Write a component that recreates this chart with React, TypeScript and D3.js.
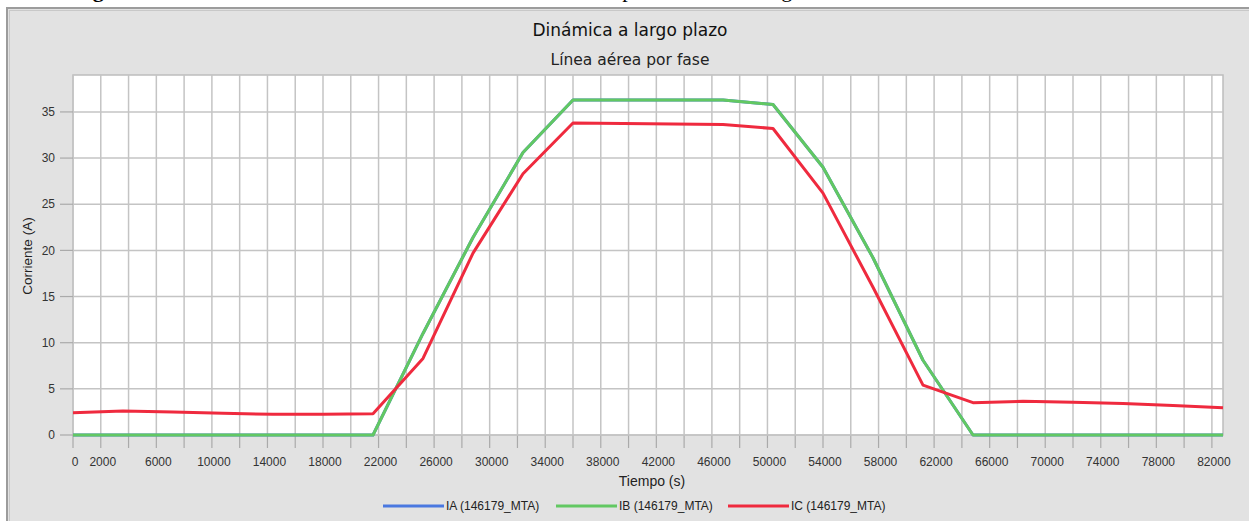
import React from 'react';
import * as d3 from 'd3';

// hourly samples (s)
const times = [
  0, 3600, 7200, 10800, 14400, 18000, 21600, 25200, 28800, 32400, 36000, 39600,
  43200, 46800, 50400, 54000, 57600, 61200, 64800, 68400, 72000, 75600, 79200, 82800,
];

// IA is hidden under IB in the reference
const iaValues = [
  0, 0, 0, 0, 0, 0, 0, 11.0, 21.4, 30.6, 36.3, 36.3,
  36.3, 36.3, 35.8, 29.0, 19.2, 8.1, 0, 0, 0, 0, 0, 0,
];
const ibValues = [
  0, 0, 0, 0, 0, 0, 0, 11.0, 21.4, 30.6, 36.3, 36.3,
  36.3, 36.3, 35.8, 29.0, 19.2, 8.1, 0, 0, 0, 0, 0, 0,
];
const icValues = [
  2.4, 2.6, 2.5, 2.35, 2.25, 2.25, 2.3, 8.3, 19.7, 28.3, 33.8, 33.75,
  33.7, 33.65, 33.2, 26.2, 16.0, 5.4, 3.5, 3.65, 3.55, 3.4, 3.2, 2.95,
];

const seriesNames = ['IA (146179_MTA)', 'IB (146179_MTA)', 'IC (146179_MTA)'];
const seriesColors = ['#4a78e0', '#62c862', '#ef2a3e'];

const xLabelTicks = [
  0, 2000, 6000, 10000, 14000, 18000, 22000, 26000, 30000, 34000, 38000, 42000,
  46000, 50000, 54000, 58000, 62000, 66000, 70000, 74000, 78000, 82000,
];
const yTicks = [0, 5, 10, 15, 20, 25, 30, 35];

const W = 1249;
const H = 521;
const plot = { left: 73, right: 1223, top: 75, bottom: 435 };
const font = '"Liberation Sans", Arial, sans-serif';

export default function App() {
  const x = d3.scaleLinear().domain([0, 82800]).range([plot.left, plot.right]);
  const y = d3.scaleLinear().domain([0, 39]).range([plot.bottom, plot.top]);
  const xGrid = d3.range(0, 82001, 2000);

  const series = [iaValues, ibValues, icValues];
  const line = d3
    .line<number>()
    .x((_, i) => x(times[i]))
    .y((d) => y(d));

  const legendX = [383, 556, 728];

  return (
    <svg
      width={W}
      height={H}
      style={{ position: 'absolute', left: 0, top: 0, background: '#fff' }}
    >
      {/* document caption above the chart, mostly cropped away */}
      <text
        x={68}
        y={-3}
        fontFamily='"Liberation Serif", "Times New Roman", serif'
        fontSize={22}
        textLength={809}
        lengthAdjust="spacing"
        fill="#000"
      >
        <tspan fontWeight="bold">Figura 10.</tspan> Niveles de corriente a la salida de la planta de energía solar
      </text>

      {/* panel */}
      <rect x={7} y={8} width={1260} height={530} fill="#e2e2e2" stroke="#9c9c9c" strokeWidth={2} />
      <rect x={9.5} y={10.5} width={1255} height={525} fill="none" stroke="#c8c8c8" strokeWidth={1} />

      <text x={630} y={36} textAnchor="middle" fontFamily='"DejaVu Sans", sans-serif' fontSize={17} fill="#111">
        Dinámica a largo plazo
      </text>
      <text x={630} y={65} textAnchor="middle" fontFamily='"DejaVu Sans", sans-serif' fontSize={15.5} fill="#222">
        Línea aérea por fase
      </text>

      {/* plot area */}
      <rect
        x={plot.left}
        y={plot.top}
        width={plot.right - plot.left}
        height={plot.bottom - plot.top}
        fill="#fff"
        stroke="#bdbdbd"
        strokeWidth={1.5}
      />
      {xGrid.map((v) => (
        <g key={'gx' + v}>
          <line x1={x(v)} x2={x(v)} y1={plot.top} y2={plot.bottom} stroke="#c4c4c4" strokeWidth={1.5} />
          <line x1={x(v)} x2={x(v)} y1={plot.bottom} y2={plot.bottom + 13} stroke="#aaaaaa" strokeWidth={1.2} />
        </g>
      ))}
      {yTicks.map((v) => (
        <g key={'gy' + v}>
          <line x1={plot.left} x2={plot.right} y1={y(v)} y2={y(v)} stroke="#c4c4c4" strokeWidth={1.5} />
          <line x1={plot.left - 13} x2={plot.left} y1={y(v)} y2={y(v)} stroke="#aaaaaa" strokeWidth={1.2} />
          <text
            x={55}
            y={y(v)}
            dy="0.35em"
            textAnchor="end"
            fontFamily={font}
            fontSize={12}
            fill="#333"
          >
            {v}
          </text>
        </g>
      ))}
      {xLabelTicks.map((v) => (
        <text
          key={'lx' + v}
          x={x(v) + 2}
          y={466}
          textAnchor="middle"
          fontFamily={font}
          fontSize={12}
          fill="#333"
        >
          {v}
        </text>
      ))}

      <defs>
        <clipPath id="plotClip">
          <rect x={plot.left} y={plot.top - 2} width={plot.right - plot.left + 1} height={plot.bottom - plot.top + 4} />
        </clipPath>
      </defs>
      <g clipPath="url(#plotClip)">
        {series.map((s, i) => (
          <path
            key={seriesNames[i]}
            d={line(s) ?? ''}
            fill="none"
            stroke={seriesColors[i]}
            strokeWidth={3}
            strokeLinejoin="round"
          />
        ))}
      </g>

      {/* axis titles */}
      <text x={652} y={486} textAnchor="middle" fontFamily={font} fontSize={14} fill="#222">
        Tiempo (s)
      </text>
      <text
        transform={`translate(32,256) rotate(-90)`}
        textAnchor="middle"
        fontFamily={font}
        fontSize={13.5}
        fill="#222"
      >
        Corriente (A)
      </text>

      {/* legend */}
      {seriesNames.map((name, i) => (
        <g key={'lg' + name} transform={`translate(${legendX[i]},506)`}>
          <line x1={0} x2={61} y1={0} y2={0} stroke={seriesColors[i]} strokeWidth={3} />
          <text x={63} y={0} dy="0.35em" fontFamily={font} fontSize={12} fill="#222">
            {name}
          </text>
        </g>
      ))}
    </svg>
  );
}
